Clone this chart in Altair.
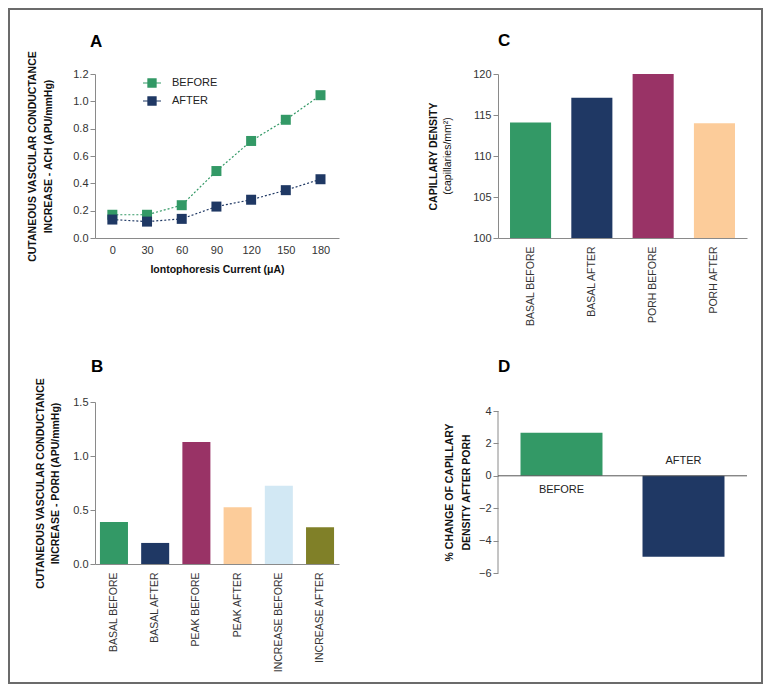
import altair as alt
import pandas as pd

# ---------------- data ----------------
currents = [0, 30, 60, 90, 120, 150, 180]
ach_before = [0.17, 0.17, 0.24, 0.49, 0.71, 0.865, 1.045]
ach_after = [0.135, 0.12, 0.14, 0.23, 0.28, 0.35, 0.43]
series_names = ["BEFORE", "AFTER"]

porh_categories = ["BASAL BEFORE", "BASAL AFTER", "PEAK BEFORE", "PEAK AFTER",
                   "INCREASE BEFORE", "INCREASE AFTER"]
porh_values = [0.39, 0.195, 1.13, 0.525, 0.725, 0.34]

cap_categories = ["BASAL BEFORE", "BASAL AFTER", "PORH BEFORE", "PORH AFTER"]
cap_values = [114.1, 117.1, 120.0, 114.0]

change_categories = ["BEFORE", "AFTER"]
change_values = [2.65, -5.0]
change_ticks = [-6, -4, -2, 0, 2, 4]

# ---------------- styles ----------------
GREEN = "#339966"
NAVY = "#1f3864"
MAGENTA = "#993366"
PEACH = "#fccc9a"
LIGHTBLUE = "#d2e8f4"
OLIVE = "#808028"
porh_colors = [GREEN, NAVY, MAGENTA, PEACH, LIGHTBLUE, OLIVE]
cap_colors = [GREEN, NAVY, MAGENTA, PEACH]
change_colors = [GREEN, NAVY]

FONT = "Liberation Sans"
AXIS_GRAY = "#8a8a8a"


def letter(text, dx, dy):
    return alt.Chart(pd.DataFrame({"t": [text]})).mark_text(
        font=FONT, fontSize=17, fontWeight="bold", color="#000",
        align="left", baseline="alphabetic").encode(
        text="t:N", x=alt.value(dx), y=alt.value(dy))


# ---------------- panel A ----------------
dfA = pd.DataFrame({
    "current": currents + currents,
    "value": ach_before + ach_after,
    "series": [series_names[0]] * len(currents) + [series_names[1]] * len(currents),
})
legendA = alt.Legend(title=None, orient="none", legendX=47, legendY=-1,
                     symbolType="M-0.45,-0.45H0.45V0.45H-0.45Z M-1,0H1",
                     symbolSize=324, symbolStrokeWidth=1.2,
                     labelFontSize=11, labelFont=FONT, labelColor="#222",
                     labelOffset=10, rowPadding=1, padding=0)
colorA = alt.Color("series:N", scale=alt.Scale(domain=series_names, range=[GREEN, NAVY]),
                   legend=legendA, sort=series_names)
xA = alt.X("current:Q", scale=alt.Scale(domain=[-15, 196], nice=False, zero=False),
           axis=alt.Axis(values=currents, title="Iontophoresis Current (μA)", ticks=False,
                         labelPadding=6, titlePadding=9, labelFlush=False))
yA = alt.Y("value:Q", scale=alt.Scale(domain=[0, 1.2], nice=False),
           axis=alt.Axis(values=[0, 0.2, 0.4, 0.6, 0.8, 1.0, 1.2], format=".1f",
                         title=["CUTANEOUS VASCULAR CONDUCTANCE", "INCREASE - ACH (APU/mmHg)"],
                         titlePadding=22, minExtent=20, maxExtent=20))
linesA = alt.Chart(dfA).mark_line(strokeDash=[2, 2], strokeWidth=1.2).encode(
    x=xA, y=yA, color=colorA)
pointsA = alt.Chart(dfA).mark_point(shape="square", filled=True, size=100, opacity=1).encode(
    x=xA, y=yA, color=colorA)
frame = alt.Chart(pd.DataFrame({"f": [0]})).mark_rect(
    fill="white", fillOpacity=0, stroke="#6b6b6b", strokeWidth=2).encode(
    x=alt.value(-86), x2=alt.value(667), y=alt.value(-65), y2=alt.value(609))
panelA = alt.layer(frame, linesA, pointsA, letter("A", -5, -27)).properties(
    width=244, height=164)

# ---------------- panel C ----------------
dfC = pd.DataFrame({"cat": cap_categories, "value": cap_values})
barsC = alt.Chart(dfC).mark_bar().encode(
    x=alt.X("cat:N", sort=cap_categories,
            scale=alt.Scale(paddingInner=0.33, paddingOuter=0.196),
            axis=alt.Axis(title=None, labelAngle=-90, ticks=False, labelPadding=8,
                          labelFontSize=10.5)),
    y=alt.Y("value:Q", scale=alt.Scale(domain=[100, 120], nice=False, zero=False),
            axis=alt.Axis(values=[100, 105, 110, 115, 120], title="CAPILLARY DENSITY",
                          titlePadding=40, minExtent=20, maxExtent=20)),
    y2=alt.datum(100),
    color=alt.Color("cat:N", scale=alt.Scale(domain=cap_categories, range=cap_colors),
                    legend=None),
)
subC = alt.Chart(pd.DataFrame({"t": ["(capillaries/mm²)"]})).mark_text(
    angle=270, font=FONT, fontSize=10.5, color="#111", baseline="middle", align="center").encode(
    text="t:N", x=alt.value(-50), y=alt.value(82))
panelC = alt.layer(barsC, subC, letter("C", 0, -28)).properties(width=249, height=164)

# ---------------- panel B ----------------
dfB = pd.DataFrame({"cat": porh_categories, "value": porh_values})
barsB = alt.Chart(dfB).mark_bar().encode(
    x=alt.X("cat:N", sort=porh_categories,
            scale=alt.Scale(paddingInner=0.32, paddingOuter=0.12),
            axis=alt.Axis(title=None, labelAngle=-90, ticks=False, labelPadding=8,
                          labelFontSize=10.5)),
    y=alt.Y("value:Q", scale=alt.Scale(domain=[0, 1.5], nice=False),
            axis=alt.Axis(values=[0, 0.5, 1.0, 1.5], format=".1f",
                          title=["CUTANEOUS VASCULAR CONDUCTANCE", "INCREASE - PORH (APU/mmHg)"],
                          titlePadding=15, titleLineHeight=15, minExtent=20, maxExtent=20)),
    color=alt.Color("cat:N", scale=alt.Scale(domain=porh_categories, range=porh_colors),
                    legend=None),
)
panelB = alt.layer(barsB, letter("B", -4, -30)).properties(width=244, height=162)

# ---------------- panel D ----------------
# plot area 171 px high; the domain is padded so the value 4 sits 9 px below its top
dfD = pd.DataFrame({"cat": change_categories, "value": change_values})
xD = alt.X("cat:N", sort=change_categories,
           scale=alt.Scale(paddingInner=0.328, paddingOuter=0.1845), axis=None)
scaleD = alt.Scale(domain=[-6, 4 + 10 * 9 / 162], nice=False, zero=False)
axisD = alt.Axis(values=change_ticks, labelOverlap=False, domain=False,
                 title=["% CHANGE OF CAPILLARY", "DENSITY AFTER PORH"],
                 titlePadding=7, titleLineHeight=17, minExtent=20, maxExtent=20,
                 titleY=90)
barsD = alt.Chart(dfD).mark_bar().encode(
    x=xD,
    y=alt.Y("value:Q", scale=scaleD, axis=axisD, title=axisD.title),
    y2=alt.datum(0),
    color=alt.Color("cat:N", scale=alt.Scale(domain=change_categories, range=change_colors),
                    legend=None),
)
dfDaxis = pd.DataFrame({"lo": [min(change_ticks)], "hi": [max(change_ticks)]})
axisLineD = alt.Chart(dfDaxis).mark_rule(color=AXIS_GRAY, strokeWidth=1).encode(
    x=alt.value(0), y=alt.Y("lo:Q", scale=scaleD, axis=axisD, title=axisD.title), y2="hi:Q")
zeroD = alt.Chart(pd.DataFrame({"z": [0]})).mark_rule(color="#555", strokeWidth=1).encode(
    y=alt.Y("z:Q", scale=scaleD, axis=axisD, title=axisD.title))
labelsD = alt.Chart(dfD).transform_calculate(
    ly="datum.value > 0 ? -0.86 : 0.9").mark_text(
    font=FONT, fontSize=11, color="#222", baseline="middle", align="center").encode(
    x=xD, y=alt.Y("ly:Q", scale=scaleD, axis=axisD, title=axisD.title), text="cat:N")
panelD = alt.layer(barsD, axisLineD, zeroD, labelsD, letter("D", 0, -30)).properties(
    width=249, height=171)

chart = alt.concat(
    panelA, panelC, panelB, panelD, columns=2,
    spacing=alt.RowColnumber(row=164, column=159), bounds="flush", align="each",
).resolve_scale(color="independent").properties(padding=0).configure_view(
    stroke=None).configure_axis(
    labelFont=FONT, labelFontSize=11, labelColor="#333", labelPadding=2,
    titleFont=FONT, titleFontSize=10.5, titleFontWeight="bold", titleColor="#111",
    titleLineHeight=16, domainColor=AXIS_GRAY, tickColor=AXIS_GRAY, tickSize=5,
    grid=False,
)

chart.save("out.html", embed_options={"renderer": "svg", "actions": False})
